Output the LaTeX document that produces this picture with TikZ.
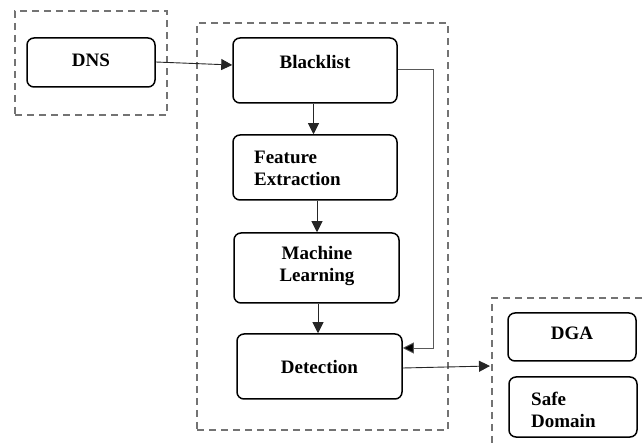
\documentclass[tikz,border=0pt]{standalone}
\usepackage{fontspec}
\setmainfont{Liberation Serif}
\usetikzlibrary{arrows.meta,calc}
\begin{document}
\begin{tikzpicture}[x=1pt,y=-1pt,
  box/.style={draw=black,line width=1.5pt,rounded corners=7pt,inner sep=0pt},
  group/.style={draw=black!55,line width=1.3pt,dash pattern=on 7pt off 5pt,inner sep=0pt},
  txt/.style={inner sep=0pt,font=\fontsize{19}{22}\selectfont\bfseries},
  conn/.style={line width=0.9pt,draw=black!85,-{Triangle[length=11pt,width=11pt]}},
  loop/.style={line width=0.9pt,draw=black!65,-{Triangle[length=11pt,width=11pt,fill=black]}}]
\useasboundingbox (0,0) rectangle (643,446);
\clip (0,0) rectangle (643,446);
% groups
\node[group,minimum width=152pt,minimum height=104pt] (g1) at (91,63) {};
\node[group,minimum width=251pt,minimum height=407pt] (g2) at (322.5,226.5) {};
\node[group,minimum width=168pt,minimum height=162pt] (g3) at (576,379) {};
% boxes
\node[box,minimum width=128pt,minimum height=49pt] (dns) at (91,62.5) {};
\node[box,minimum width=164pt,minimum height=65pt] (bl) at (315,70.5) {};
\node[box,minimum width=164pt,minimum height=65pt] (fe) at (315,167.5) {};
\node[box,minimum width=165pt,minimum height=70pt] (ml) at (316.5,268) {};
\node[box,minimum width=165pt,minimum height=65pt] (det) at (319.5,366.5) {};
\node[box,minimum width=128pt,minimum height=48pt] (dga) at (572,337) {};
\node[box,minimum width=128pt,minimum height=60pt] (safe) at (573,407) {};
% texts
\node[txt] (tdns) at (91,60) {DNS};
\node[txt] (tbl) at (315,62) {Blacklist};
\node[txt,align=left,anchor=west] (tfe) at (254,168) {Feature\\Extraction};
\node[txt,align=center] (tml) at (317,266) {Machine\\Learning};
\node[txt] (tdet) at (319.5,367) {Detection};
\node[txt] (tdga) at (572,333) {DGA};
\node[txt,align=left,anchor=west] (tsafe) at (531,409.5) {Safe\\Domain};
% connectors
\coordinate (dnsout) at ($(dns.east)+(0,-0.5)$);
\coordinate (blin) at ($(bl.west)+(0,-5.5)$);
\draw[conn] (dnsout) -- (blin);
\draw[conn] ($(bl.south)+(-1.5,0)$) -- ($(fe.north)+(-1.5,0)$);
\draw[conn] ($(fe.south)+(2,0)$) -- ($(ml.north)+(0.5,0)$);
\coordinate (mlout) at ($(ml.south)+(1.5,0)$);
\draw[conn] (mlout) -- (mlout |- det.north);
\coordinate (blout) at ($(bl.east)+(0,-1.5)$);
\coordinate (detin) at ($(det.east)+(0,-18.5)$);
\draw[loop] (blout) -- (433,0 |- blout) -- (433,0 |- detin) -- (detin);
\coordinate (detout) at ($(det.east)+(0,1.5)$);
\coordinate (g3in) at (490,366);
\draw[conn] (detout) -- (g3in);
\end{tikzpicture}
\end{document}
